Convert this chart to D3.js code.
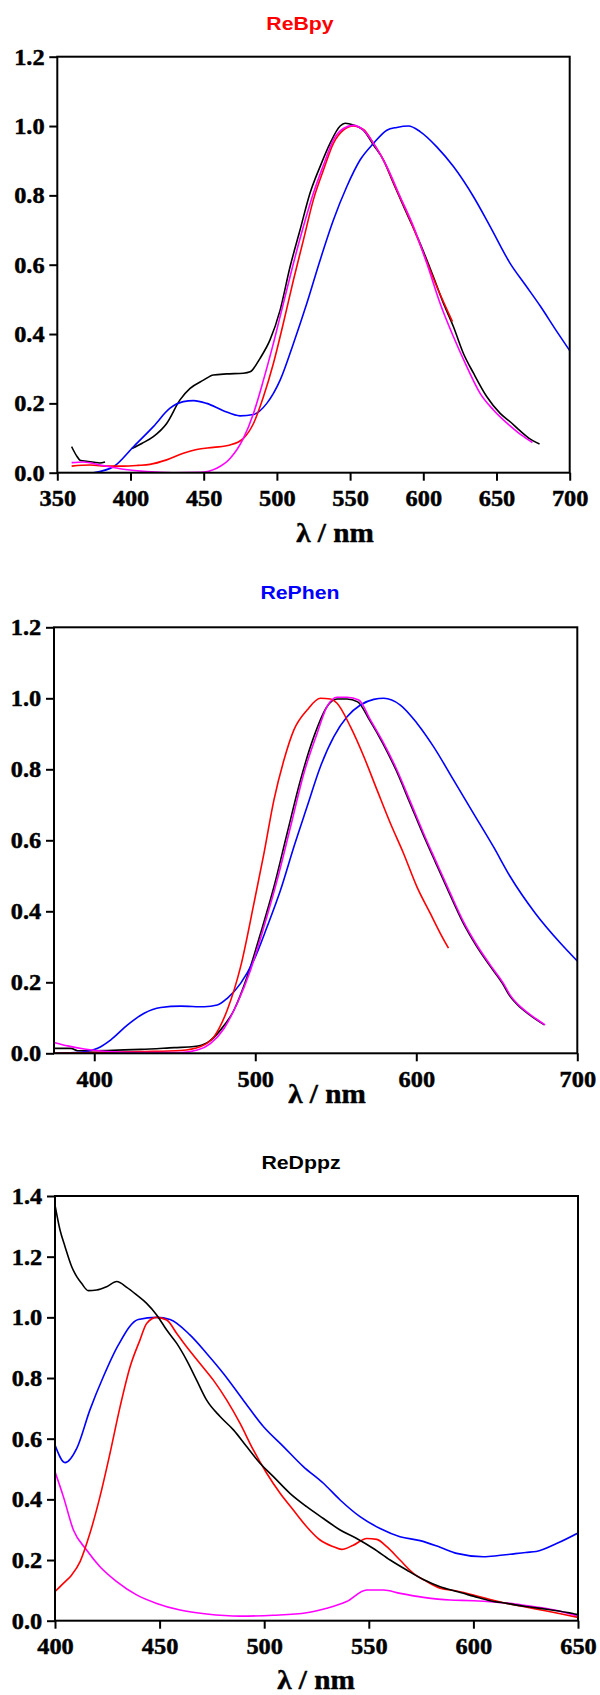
<!DOCTYPE html>
<html>
<head>
<meta charset="utf-8">
<script src="https://cdn.jsdelivr.net/npm/d3@7"></script>
<style>
html,body{margin:0;padding:0;background:#fff;}
svg{display:block;}
.serif{font-family:"Liberation Serif","Times New Roman",Times,serif;font-weight:bold;stroke:#000;stroke-width:0.45px;}
.sans{font-family:"Liberation Sans",Arial,Helvetica,sans-serif;font-weight:bold;}
</style>
</head>
<body>
<svg id="chart" width="600" height="1695"></svg>
<script>
// ---------- DATA ----------
// Panel 1: ReBpy
const bpyXTicks = [350,400,450,500,550,600,650,700];
const bpyYTicks = [0,0.2,0.4,0.6,0.8,1.0,1.2];
const bpyBlack = [[359.8,0.075],[363,0.05],[366,0.035],[370,0.033],[375,0.03],[379,0.028],[382.6,0.031],[383,null],
 [401,0.07],[408,0.085],[415.6,0.104],[424.7,0.142],[433.8,0.21],[440.7,0.243],[449.8,0.267],[456.6,0.282],[465.7,0.285],
 [477.1,0.287],[481.7,0.291],[488.5,0.33],[495.3,0.383],[502.2,0.469],[509,0.594],[515.8,0.7],[522.6,0.806],[529.5,0.883],
 [536.3,0.95],[543.2,1.0],[546.6,1.008],[552.3,1.003],[559.1,0.988],[566,0.945],[572.8,0.902],[579.6,0.835],[588.7,0.748],
 [597.8,0.662],[606.9,0.565],[613.8,0.488],[620.6,0.421],[627.4,0.344],[634.3,0.287],[643.4,0.219],[652.5,0.171],
 [659.3,0.147],[665,0.125],[672,0.1],[679.4,0.083]];
const bpyRed = [[359.8,0.019],[372.3,0.022],[385,0.019],[395.1,0.019],[405,0.021],[413.3,0.024],[424.7,0.037],[436.1,0.056],
 [445.2,0.067],[456.6,0.073],[468,0.08],[477.1,0.099],[484,0.142],[490.8,0.219],[497.6,0.315],[504.4,0.431],[511.3,0.556],
 [518.1,0.671],[524.9,0.787],[531.8,0.873],[538.6,0.95],[545.4,0.988],[552.3,1.0],[559.1,0.99],[566,0.95],[572.8,0.902],
 [581.9,0.815],[591,0.729],[600.1,0.633],[609.2,0.537],[619.9,0.436]];
const bpyMagenta = [[359.8,0.029],[367.8,0.031],[379.2,0.022],[395.1,0.01],[411,0.003],[429.3,0.0],[447.5,0.001],[458.9,0.013],
 [468,0.041],[477.1,0.099],[484,0.171],[490.8,0.267],[497.6,0.373],[504.4,0.488],[511.3,0.604],[518.1,0.71],[524.9,0.806],
 [531.8,0.887],[538.6,0.96],[545.4,0.993],[552.3,1.002],[559.1,0.988],[566,0.95],[575.1,0.883],[584.2,0.796],[593.3,0.71],
 [602.4,0.604],[611.5,0.488],[620.6,0.392],[629.7,0.306],[638.8,0.229],[647.9,0.181],[659.3,0.135],[665,0.115],
 [670,0.1],[674.5,0.087]];
const bpyBlue = [[374.6,0.0],[388.3,0.017],[402,0.075],[415.6,0.133],[427,0.186],[436.1,0.205],[443,0.208],[452,0.2],
 [463.4,0.179],[474.8,0.164],[484,0.168],[493.1,0.2],[502.2,0.267],[511.3,0.373],[520.4,0.488],[529.5,0.613],[538.6,0.729],
 [547.7,0.825],[556.8,0.902],[566,0.95],[575.1,0.988],[581.9,0.996],[589.9,1.0],[597.8,0.984],[609.2,0.94],[620.6,0.883],
 [634.3,0.796],[645.7,0.71],[659.3,0.604],[670,0.54],[680,0.48],[690,0.415],[700,0.352]];

// Panel 2: RePhen
const phenXTicks = [400,500,600,700];
const phenYTicks = [0,0.2,0.4,0.6,0.8,1.0,1.2];
const phenBlack = [[375.6,0.014],[385.5,0.014],[389.7,0.007],[408.3,0.008],[428.9,0.011],[449.6,0.016],[462,0.019],
 [470.2,0.03],[478.5,0.066],[486.8,0.122],[495,0.216],[503.3,0.338],[511.6,0.469],[519.8,0.62],[528.1,0.77],[536.4,0.892],
 [544.6,0.977],[550.8,0.998],[557,0.998],[563.6,0.99],[570.9,0.939],[579.2,0.873],[587.4,0.798],[595.7,0.709],
 [603.9,0.62],[612.2,0.535],[620.5,0.451],[628.7,0.371],[637,0.305],[645.3,0.249],[653.5,0.197],[657.7,0.164],
 [664.4,0.13],[671.4,0.105],[679.6,0.08]];
const phenRed = [[375.6,0.0],[397.9,0.002],[428.9,0.005],[453.7,0.008],[466.1,0.019],[474.4,0.047],[482.6,0.122],
 [490.9,0.244],[499.2,0.423],[505.4,0.563],[511.6,0.714],[517.8,0.826],[524,0.911],[532.2,0.967],[540.5,1.0],[546.7,0.998],
 [550.8,0.986],[559.1,0.92],[567.4,0.836],[575.6,0.742],[583.9,0.648],[592.1,0.563],[600.4,0.469],[608.7,0.394],
 [614.9,0.338],[620,0.296]];
const phenMagenta = [[375.6,0.03],[383.5,0.021],[393.8,0.012],[408.3,0.005],[428.9,0.002],[453.7,0.002],[464,0.009],
 [472.3,0.028],[480.6,0.07],[488.8,0.141],[497.1,0.235],[505.4,0.357],[513.6,0.488],[521.9,0.638],[530.2,0.789],
 [538.4,0.901],[544.6,0.977],[550.8,1.003],[557,1.003],[564.3,0.995],[571.5,0.939],[579.8,0.873],[588,0.798],[596.3,0.709],
 [604.5,0.62],[612.8,0.535],[621.1,0.451],[629.3,0.371],[637.6,0.305],[645.9,0.249],[654.1,0.197],[658.3,0.164],
 [665,0.13],[672,0.105],[680,0.08]];
const phenBlue = [[375.6,0.0],[391.7,0.003],[402.1,0.014],[410.3,0.038],[420.7,0.08],[431,0.113],[441.3,0.129],[453.7,0.133],
 [468.2,0.131],[476.4,0.136],[482.6,0.155],[490.9,0.197],[499.2,0.263],[507.4,0.357],[515.7,0.46],[524,0.582],[532.2,0.695],
 [540.5,0.808],[548.8,0.892],[557,0.948],[565.3,0.981],[573.6,0.997],[579.8,1.0],[590.1,0.981],[600.4,0.93],[610.7,0.864],
 [623.1,0.77],[635.5,0.676],[647.9,0.582],[658.3,0.498],[674,0.394],[689.6,0.31],[700,0.26]];

// Panel 3: ReDppz
const dppzXTicks = [400,450,500,550,600,650];
const dppzYTicks = [0,0.2,0.4,0.6,0.8,1.0,1.2,1.4];
const dppzBlack = [[400,1.37],[402.4,1.288],[404.8,1.233],[408,1.167],[410.4,1.134],[412.7,1.112],[415.9,1.088],[419.9,1.09],
 [424.7,1.101],[429.5,1.118],[434.3,1.099],[439,1.074],[443.8,1.046],[448.6,1.008],[453.4,0.958],[458.2,0.914],[462.9,0.859],
 [467.7,0.793],[472.5,0.727],[478.9,0.673],[485.3,0.629],[491.6,0.574],[498,0.519],[504.4,0.475],[512.3,0.42],[520.3,0.376],
 [528.3,0.337],[536.3,0.299],[544.2,0.271],[552.2,0.238],[560.2,0.2],[568.1,0.167],[576.1,0.136],[584.1,0.112],[592,0.096],
 [600,0.081],[608,0.066],[616,0.057],[625,0.047],[635,0.038],[645,0.027],[650,0.02]];
const dppzRed = [[400,0.096],[404,0.123],[408,0.151],[412,0.195],[416.7,0.288],[421.5,0.409],[426.3,0.552],[431.1,0.705],
 [435.9,0.837],[440.6,0.925],[443.8,0.98],[448.6,1.0],[453.4,0.991],[458.2,0.947],[462.9,0.903],[469.3,0.848],[475.7,0.793],
 [482.1,0.727],[488.4,0.651],[494.8,0.563],[501.2,0.486],[507.6,0.42],[513.9,0.365],[520.3,0.31],[526.7,0.266],[533.1,0.244],
 [537,0.235],[542.6,0.249],[549,0.271],[553.8,0.268],[558.6,0.244],[564.9,0.2],[571.3,0.156],[577.7,0.129],[584.1,0.107],
 [592,0.098],[600,0.085],[608,0.07],[616,0.057],[625,0.045],[635,0.032],[645,0.018],[650,0.011]];
const dppzBlue = [[400,0.579],[404.8,0.521],[410.4,0.568],[416.7,0.695],[423.1,0.804],[430.3,0.909],[439.8,0.993],[448.6,1.0],
 [455,0.993],[464.5,0.942],[472.5,0.881],[480.5,0.815],[490,0.727],[499.6,0.64],[509.2,0.574],[518.7,0.508],[528.3,0.453],
 [536.3,0.398],[545.8,0.343],[555.4,0.304],[564.9,0.277],[574.5,0.264],[584.1,0.242],[592,0.222],[604.8,0.211],[611.2,0.214],
 [617.5,0.219],[625,0.225],[630,0.228],[640,0.255],[650,0.289]];
const dppzMagenta = [[400,0.491],[404,0.409],[408.8,0.299],[415.1,0.233],[421.5,0.178],[429.5,0.129],[439,0.085],[448.6,0.057],
 [459.8,0.035],[472.5,0.022],[488.4,0.015],[504.4,0.018],[520.3,0.026],[529.9,0.041],[539.4,0.063],[549,0.101],[557,0.101],
 [565,0.09],[576.1,0.077],[588.8,0.068],[600,0.066],[617.5,0.057],[625,0.05],[635,0.04],[645,0.025],[650,0.015]];

// ---------- DRAWING ----------
const svg = d3.select("#chart");
const COL = {black:"#000000", red:"#ff0000", magenta:"#ff00ff", blue:"#0000ff"};

function scaledText(g, x, y, str, opts) {
  return g.append("text")
    .attr("class", opts.cls)
    .attr("transform", `translate(${x},${y}) scale(${opts.sx||1},1)`)
    .attr("text-anchor", "middle")
    .style("font-size", opts.size + "px")
    .style("fill", opts.fill || "#000")
    .text(str);
}

function drawPanel(p) {
  const g = svg.append("g");
  const x = d3.scaleLinear().domain(p.xDomain).range([p.left, p.right]);
  const y = d3.scaleLinear().domain(p.yDomain).range([p.bottom, p.top]);

  scaledText(g, p.titleX, p.titleY, p.title, {cls: "sans", size: 19, sx: 1.12, fill: p.titleColor});

  const clipId = "clip" + p.id;
  svg.append("clipPath").attr("id", clipId).append("rect")
    .attr("x", p.left).attr("y", p.top - 2).attr("width", p.right - p.left).attr("height", p.bottom - p.top + 2);
  const line = d3.line().defined(d => d[1] != null).x(d => x(d[0])).y(d => y(d[1])).curve(d3.curveMonotoneX);
  const cg = g.append("g").attr("clip-path", `url(#${clipId})`);
  p.series.forEach(s => {
    cg.append("path").datum(s.data).attr("d", line)
      .attr("fill", "none").attr("stroke", s.color).attr("stroke-width", 1.6)
      .attr("stroke-linejoin", "round");
  });

  const xa = g.append("g").attr("transform", `translate(0,${p.bottom})`)
    .call(d3.axisBottom(x).tickValues(p.xTicks).tickSize(8).tickPadding(9).tickFormat(d3.format("d")));
  const ya = g.append("g").attr("transform", `translate(${p.left},0)`)
    .call(d3.axisLeft(y).tickValues(p.yTicks).tickSize(8).tickPadding(4).tickFormat(d3.format(".1f")));
  [xa, ya].forEach(a => {
    a.attr("font-family", null).attr("font-size", null);
    a.select(".domain").remove();
    a.selectAll(".tick line").attr("stroke", "#000").attr("stroke-width", 2);
    a.selectAll(".tick text").attr("class", "serif")
      .style("font-size", "23px").style("fill", "#000").attr("transform", "scale(1.06,1)");
  });

  g.append("rect").attr("x", p.left).attr("y", p.top)
    .attr("width", p.right - p.left).attr("height", p.bottom - p.top)
    .attr("fill", "none").attr("stroke", "#000").attr("stroke-width", 2);

  scaledText(g, p.labelX, p.labelY, "λ / nm", {cls: "serif", size: 27, sx: 1.08});
}

drawPanel({
  id: 1, left: 57.3, right: 569.7, top: 56.7, bottom: 472.7,
  xDomain: [350, 700], yDomain: [0, 1.2], xTicks: bpyXTicks, yTicks: bpyYTicks,
  title: "ReBpy", titleColor: COL.red, titleX: 300, titleY: 30,
  labelX: 335, labelY: 541.5,
  series: [
    {data: bpyBlack, color: COL.black},
    {data: bpyBlue, color: COL.blue},
    {data: bpyRed, color: COL.red},
    {data: bpyMagenta, color: COL.magenta}
  ]
});

drawPanel({
  id: 2, left: 54, right: 577.3, top: 627.3, bottom: 1053.3,
  xDomain: [375, 700], yDomain: [0, 1.2], xTicks: phenXTicks, yTicks: phenYTicks,
  title: "RePhen", titleColor: COL.blue, titleX: 300, titleY: 599,
  labelX: 327, labelY: 1103,
  series: [
    {data: phenBlack, color: COL.black},
    {data: phenBlue, color: COL.blue},
    {data: phenRed, color: COL.red},
    {data: phenMagenta, color: COL.magenta}
  ]
});

drawPanel({
  id: 3, left: 55, right: 578, top: 1196, bottom: 1620.7,
  xDomain: [400, 650], yDomain: [0, 1.4], xTicks: dppzXTicks, yTicks: dppzYTicks,
  title: "ReDppz", titleColor: COL.black, titleX: 301, titleY: 1169,
  labelX: 316, labelY: 1689,
  series: [
    {data: dppzMagenta, color: COL.magenta},
    {data: dppzBlue, color: COL.blue},
    {data: dppzRed, color: COL.red},
    {data: dppzBlack, color: COL.black}
  ]
});
</script>
</body>
</html>
